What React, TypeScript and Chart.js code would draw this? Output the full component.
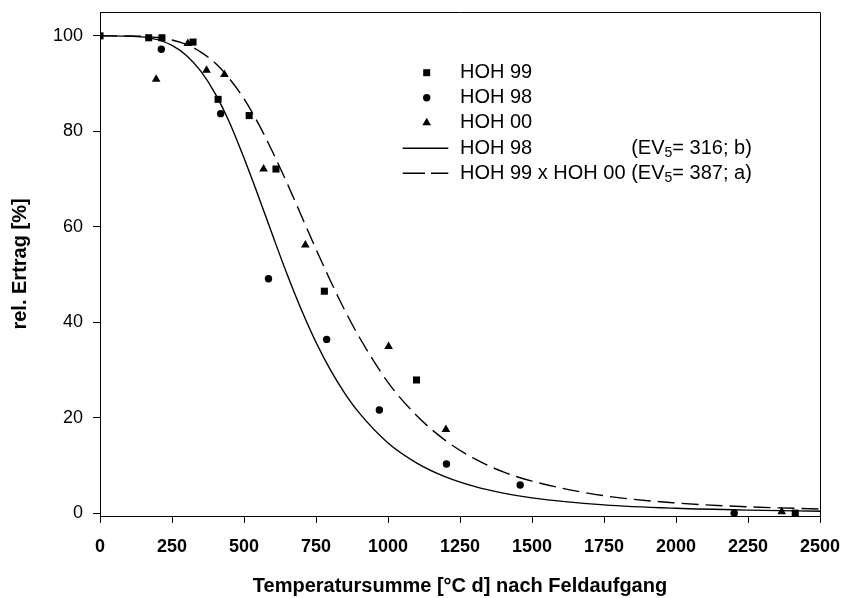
import React, { useEffect, useRef } from "react";
import { Chart, registerables } from "chart.js";

Chart.register(...registerables);

// ---- data ----
const hoh99X = [0, 169, 215, 323, 410, 518, 611, 779, 1099, 2414];
const hoh99Y = [100, 99.6, 99.6, 98.7, 86.7, 83.3, 72.1, 46.5, 27.9, 0];

const hoh98X = [213, 419, 585, 787, 970, 1203, 1459, 2202];
const hoh98Y = [97.2, 83.7, 49.1, 36.4, 21.6, 10.3, 5.9, 0];

const hoh00X = [195, 305, 370, 432, 568, 713, 1002, 1201, 2367];
const hoh00Y = [90.9, 98.4, 92.8, 91.9, 72.1, 56.2, 34.9, 17.5, 0.3];

// fitted curves, values
const curveX = [0, 100, 200, 250, 300, 350, 400, 450, 500, 550, 600, 650, 700, 750, 800, 850, 900, 1000, 1100, 1200, 1300, 1400, 1500, 1750, 2000, 2250, 2500];
const curve98Y = [100, 99.95, 99.2, 98.0, 95.9, 92.6, 87.9, 81.8, 74.4, 66.4, 58.1, 50.0, 42.5, 35.8, 30.0, 25.1, 21.0, 14.7, 10.5, 7.6, 5.6, 4.2, 3.2, 1.73, 1.01, 0.63, 0.41];
const curve9900Y = [100, 99.98, 99.65, 99.14, 98.2, 96.6, 94.3, 91.0, 86.8, 81.6, 75.6, 69.1, 62.2, 55.3, 48.7, 42.5, 36.9, 27.4, 20.4, 15.2, 11.4, 8.65, 6.7, 3.65, 2.13, 1.32, 0.86];

const xTicks = [0, 250, 500, 750, 1000, 1250, 1500, 1750, 2000, 2250, 2500];
const yTicks = [0, 20, 40, 60, 80, 100];

const legendNames = ["HOH 99", "HOH 98", "HOH 00", "HOH 98", "HOH 99 x HOH 00"];
const legendEV = ["", "", "", "316; b", "387; a"];

const xTitle = "Temperatursumme [°C d] nach Feldaufgang";
const yTitle = "rel. Ertrag [%]";

const FONT = '"Liberation Sans", Arial, Helvetica, sans-serif';

const toPts = (xs: number[], ys: number[]) => xs.map((x, i) => ({ x, y: ys[i] }));

const framePlugin = {
  id: "frame",
  afterDraw(chart: any) {
    const { ctx, chartArea } = chart;
    ctx.save();
    ctx.strokeStyle = "#000";
    ctx.lineWidth = 1;
    ctx.beginPath();
    ctx.moveTo(chartArea.left, chartArea.top + 0.5);
    ctx.lineTo(chartArea.right + 0.5, chartArea.top + 0.5);
    ctx.lineTo(chartArea.right + 0.5, chartArea.bottom);
    ctx.stroke();
    ctx.restore();
  },
};

const legendPlugin = {
  id: "customLegend",
  afterDraw(chart: any) {
    const ctx = chart.ctx as CanvasRenderingContext2D;
    ctx.save();
    ctx.fillStyle = "#000";
    ctx.strokeStyle = "#000";
    const markerX = 426.7;
    const textX = 460;
    const rowY = [72.7, 97.7, 122.7, 148.3, 173.3];
    const big = `20px ${FONT}`;
    const small = `14px ${FONT}`;
    ctx.font = big;
    ctx.textBaseline = "middle";
    ctx.textAlign = "left";
    const evX = textX + ctx.measureText(legendNames[4] + " ").width;
    // square
    ctx.fillRect(markerX - 3.5, rowY[0] - 3.5, 7, 7);
    // circle
    ctx.beginPath();
    ctx.arc(markerX, rowY[1], 3.7, 0, Math.PI * 2);
    ctx.fill();
    // triangle
    const r = 5;
    ctx.beginPath();
    ctx.moveTo(markerX, rowY[2] - r);
    ctx.lineTo(markerX + r * Math.sin(Math.PI * 2 / 3), rowY[2] + r * 0.5);
    ctx.lineTo(markerX - r * Math.sin(Math.PI * 2 / 3), rowY[2] + r * 0.5);
    ctx.closePath();
    ctx.fill();
    // line samples
    ctx.lineWidth = 1.5;
    ctx.beginPath();
    ctx.moveTo(402.7, rowY[3]);
    ctx.lineTo(448.3, rowY[3]);
    ctx.stroke();
    ctx.beginPath();
    ctx.moveTo(402.7, rowY[4]);
    ctx.lineTo(425, rowY[4]);
    ctx.moveTo(431, rowY[4]);
    ctx.lineTo(448.3, rowY[4]);
    ctx.stroke();
    // texts
    for (let i = 0; i < legendNames.length; i++) {
      ctx.font = big;
      ctx.fillText(legendNames[i], textX, rowY[i]);
      if (legendEV[i]) {
        let x = evX;
        ctx.fillText("(EV", x, rowY[i]);
        x += ctx.measureText("(EV").width;
        ctx.font = small;
        ctx.fillText("5", x, rowY[i] + 5);
        x += ctx.measureText("5").width;
        ctx.font = big;
        ctx.fillText("= " + legendEV[i] + ")", x, rowY[i]);
      }
    }
    ctx.restore();
  },
};

export default function App() {
  const ref = useRef<HTMLCanvasElement | null>(null);
  useEffect(() => {
    document.body.style.margin = "0";
    const canvas = ref.current;
    if (!canvas) return;
    const chart = new Chart(canvas, {
      type: "scatter",
      data: {
        datasets: [
          {
            label: "HOH 98 fit",
            data: toPts(curveX, curve98Y),
            showLine: true,
            borderColor: "#000",
            borderWidth: 1.4,
            pointRadius: 0,
            cubicInterpolationMode: "monotone",
          } as any,
          {
            label: "HOH 99 x HOH 00 fit",
            data: toPts(curveX, curve9900Y),
            showLine: true,
            borderColor: "#000",
            borderWidth: 1.4,
            borderDash: [17, 7],
            pointRadius: 0,
            cubicInterpolationMode: "monotone",
          } as any,
          {
            label: "HOH 99",
            data: toPts(hoh99X, hoh99Y),
            pointStyle: "rect",
            pointRadius: 5,
            backgroundColor: "#000",
            borderColor: "#000",
            borderWidth: 0,
          },
          {
            label: "HOH 98",
            data: toPts(hoh98X, hoh98Y),
            pointStyle: "circle",
            pointRadius: 3.7,
            backgroundColor: "#000",
            borderColor: "#000",
            borderWidth: 0,
          },
          {
            label: "HOH 00",
            data: toPts(hoh00X, hoh00Y),
            pointStyle: "triangle",
            pointRadius: 5,
            backgroundColor: "#000",
            borderColor: "#000",
            borderWidth: 0,
          },
        ],
      },
      options: {
        responsive: false,
        animation: false,
        devicePixelRatio: 1,
        layout: { padding: { left: 0, right: 24, top: 12, bottom: 0 } },
        plugins: { legend: { display: false }, tooltip: { enabled: false } },
        scales: {
          x: {
            type: "linear",
            min: 0,
            max: 2500,
            afterBuildTicks: (s: any) => {
              s.ticks = xTicks.map((v) => ({ value: v }));
            },
            afterFit: (s: any) => {
              s.height = 82;
              s.paddingLeft = 0;
              s.paddingRight = 0;
            },
            grid: { drawOnChartArea: false, drawTicks: true, tickLength: 7, color: "#000", lineWidth: 1 },
            border: { display: true, color: "#000", width: 1 },
            ticks: {
              color: "#000",
              padding: 13,
              maxRotation: 0,
              callback: (v: any) => String(v),
              font: { family: FONT, size: 18, weight: "bold" },
            },
            title: {
              display: true,
              text: xTitle,
              color: "#000",
              padding: { top: 0, bottom: 0 },
              font: { family: FONT, size: 20, weight: "bold" },
            },
          },
          y: {
            type: "linear",
            min: -0.6,
            max: 105,
            afterBuildTicks: (s: any) => {
              s.ticks = yTicks.map((v) => ({ value: v }));
            },
            afterFit: (s: any) => {
              s.width = 100;
              s.paddingTop = 0;
              s.paddingBottom = 0;
            },
            grid: { drawOnChartArea: false, drawTicks: true, tickLength: 7, color: "#000", lineWidth: 1 },
            border: { display: true, color: "#000", width: 1 },
            ticks: {
              color: "#000",
              padding: 10,
              font: { family: FONT, size: 18 },
            },
            title: {
              display: true,
              text: yTitle,
              color: "#000",
              padding: { top: 8, bottom: 0 },
              font: { family: FONT, size: 20, weight: "bold" },
            },
          },
        },
      },
      plugins: [framePlugin, legendPlugin],
    });
    return () => chart.destroy();
  }, []);
  return (
    <div style={{ width: 844, height: 598, background: "#fff" }}>
      <canvas ref={ref} width={844} height={598} style={{ display: "block" }} />
    </div>
  );
}
